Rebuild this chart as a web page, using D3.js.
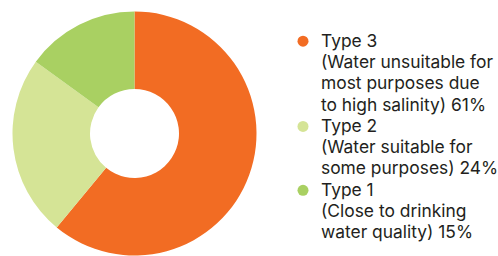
<!DOCTYPE html>
<html>
<head>
<meta charset="utf-8">
<script src="https://cdn.jsdelivr.net/npm/d3@7"></script>
<style>
  body { margin: 0; background: #fff; }
  svg { display: block; }
</style>
</head>
<body>
<svg id="chart" width="498" height="256"></svg>
<script>
// Data
const types = ["Type 3", "Type 2", "Type 1"];
const shares = [61, 24, 15];
const descriptions = [
  ["(Water unsuitable for", "most purposes due", "to high salinity) 61%"],
  ["(Water suitable for", "some purposes) 24%"],
  ["(Close to drinking", "water quality) 15%"]
];
const colors = ["#f26c23", "#d5e496", "#a9d062"];

const width = 498, height = 256;
const cx = 134.5, cy = 133.5, outerR = 122, innerR = 44.5;

const svg = d3.select("#chart");

const pie = d3.pie().sort(null).value(d => d);
const arc = d3.arc().innerRadius(innerR).outerRadius(outerR);

svg.append("g")
  .attr("transform", `translate(${cx},${cy})`)
  .selectAll("path")
  .data(pie(shares))
  .join("path")
  .attr("fill", (d, i) => colors[i])
  .attr("d", arc);

// Legend
const lineH = 21.3;
const legend = svg.append("g").attr("transform", "translate(303,46.7)");
let row = 0;
types.forEach((t, i) => {
  const lines = [t].concat(descriptions[i]);
  const g = legend.append("g").attr("transform", `translate(0,${row * lineH})`);
  g.append("circle")
    .attr("cx", 0).attr("cy", -5.5).attr("r", 5.5)
    .attr("fill", colors[i]);
  g.append("text")
    .attr("fill", "#231f20")
    .style("font", "17.4px Inter, sans-serif")
    .selectAll("tspan")
    .data(lines)
    .join("tspan")
    .attr("x", 18)
    .attr("dy", (d, j) => j === 0 ? 0 : lineH)
    .text(d => d);
  row += lines.length;
});
</script>
</body>
</html>
